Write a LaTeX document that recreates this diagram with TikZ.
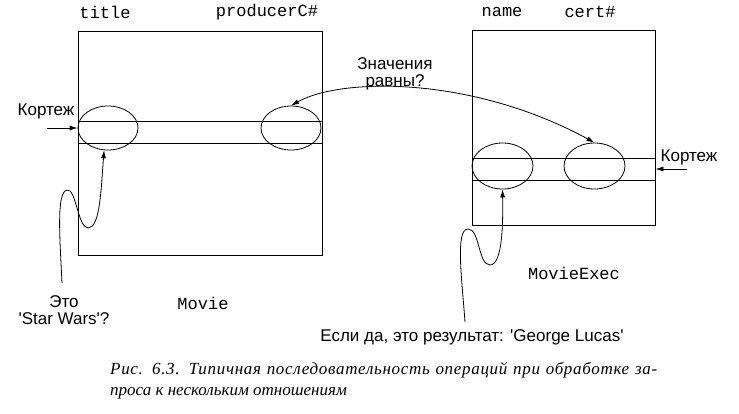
\documentclass[tikz,border=0pt]{standalone}
\usepackage{fontspec}
\newfontfamily\lblfont{Liberation Sans}
\newfontfamily\colfont{Liberation Mono}
\newfontfamily\capfont{Liberation Serif}
\usetikzlibrary{arrows.meta,positioning,shapes.geometric}

\begin{document}
\begin{tikzpicture}[x=1pt,y=-1pt,
  relbox/.style={draw,line width=.8pt,inner sep=0pt},
  tuplerow/.style={draw,line width=.8pt,inner sep=0pt,minimum height=22pt},
  attr/.style={draw,ellipse,line width=.8pt,inner sep=0pt},
  colname/.style={font=\colfont\fontsize{17}{20}\selectfont,inner sep=0pt},
  lbl/.style={font=\lblfont\fontsize{17}{17}\selectfont,align=center,inner sep=0pt},
  arr/.style={-{Latex[length=8pt,width=5pt]},line width=.8pt}]
\useasboundingbox (0,0) rectangle (739,413);
% relation Movie
\node[relbox,minimum width=244pt,minimum height=224pt] (movie) at (200,143) {};
\node[tuplerow,minimum width=244pt] (tupM) at (200,132) {};
\node[attr,minimum width=60pt,minimum height=44pt] (title) at (108,128) {};
\node[attr,minimum width=60pt,minimum height=44pt] (prod) at (291,128) {};
\node[colname] (hTitle) at (105,12) {title};
\node[colname] (hProd) at (267,12) {producerC\#};
\node[colname] (movieName) at (203,303) {Movie};
% relation MovieExec
\node[relbox,minimum width=183pt,minimum height=195pt] (exec) at (563.5,127.5) {};
\node[tuplerow,minimum width=183pt] (tupE) at (563.5,169) {};
\node[attr,minimum width=61pt,minimum height=46pt] (name) at (502.5,166) {};
\node[attr,minimum width=61pt,minimum height=46pt] (cert) at (594.5,166) {};
\node[colname] (hName) at (502,12) {name};
\node[colname] (hCert) at (590,12) {cert\#};
\node[colname] (execName) at (574,273) {MovieExec};
% labels
\node[lbl] (kortM) at (46,111) {Кортеж};
\node[lbl] (kortE) at (689,157) {Кортеж};
\node[lbl] (eq) at (395,74) {Значения\\равны?};
\node[lbl] (isSW) at (64,310) {Это\\'Star Wars'?};
\node[lbl] (result) at (472,337) {Если да, это результат: 'George Lucas'};
\coordinate (kortMin) at (47,128);
\coordinate (kortEin) at (687,169);
\coordinate (swStart) at (62,283);
\coordinate (resStart) at (465,322);
% connectors
\draw[arr] (kortMin) -- (title.west);
\draw[arr] (kortEin) -- (tupE.east);
\draw[{Latex[length=8pt,width=5pt]}-{Latex[length=8pt,width=5pt]},line width=.8pt] (prod.north) .. controls (340,78) and (470,75) .. (cert.north);
\draw[arr] (swStart) .. controls (60,240) and (56,192) .. (67,190) .. controls (76,188) and (78,228) .. (88,228) .. controls (100,228) and (101,190) .. (title.-100);
\draw[arr] (resStart) .. controls (462,280) and (455,229) .. (468,229) .. controls (480,229) and (478,265) .. (490,265) .. controls (503,265) and (503,220) .. (name.south);
% caption
\node[anchor=north west,text width=547pt,align=justify,inner sep=0pt,font=\capfont\itshape\fontsize{17}{21}\selectfont] (cap) at (110,362) {{\addfontfeature{LetterSpace=4}Рис. 6.3. Типичная последовательность операций при обработке за-}\linebreak проса к нескольким отношениям};
\end{tikzpicture}
\end{document}
